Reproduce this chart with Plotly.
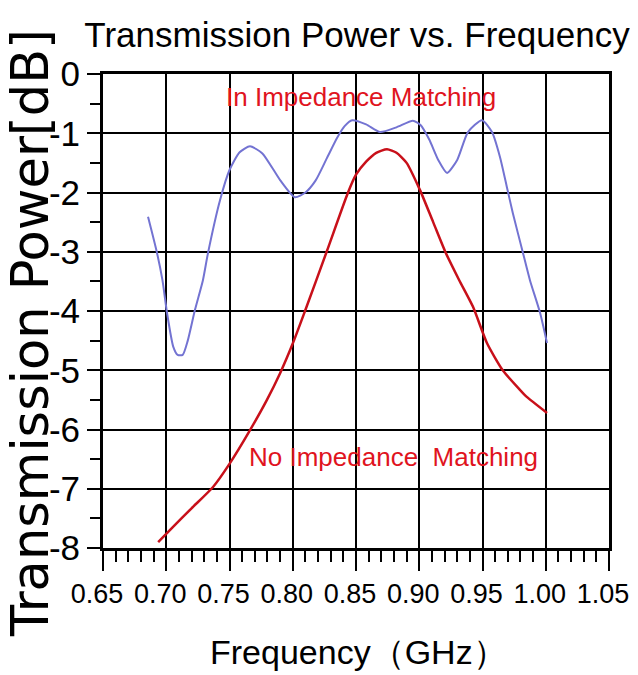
import plotly.graph_objects as go

# Blue: "In Impedance Matching"
blue_freq = [0.6856, 0.6927, 0.697, 0.7006, 0.7055, 0.709, 0.713, 0.717, 0.7227, 0.729, 0.733,
             0.7425, 0.750, 0.758, 0.7662, 0.776, 0.790, 0.8017, 0.810, 0.818, 0.827, 0.835,
             0.841, 0.847, 0.858, 0.869, 0.882, 0.895, 0.901, 0.908, 0.915, 0.922, 0.930, 0.9385,
             0.9496, 0.9575, 0.9638, 0.9693, 0.974, 0.982, 0.9875, 0.9955, 1.001]
blue_db = [-2.41, -3.02, -3.48, -4.03, -4.60, -4.74, -4.74, -4.50, -3.98, -3.48, -3.02,
           -2.13, -1.62, -1.32, -1.22, -1.34, -1.79, -2.08, -2.00, -1.80, -1.42, -1.08,
           -0.88, -0.78, -0.85, -0.98, -0.90, -0.79, -0.86, -1.11, -1.45, -1.67, -1.45, -0.98,
           -0.78, -0.98, -1.40, -1.91, -2.35, -3.02, -3.48, -4.03, -4.54]

# Red: "No Impedance Matching"
red_freq = [0.6936, 0.705, 0.720, 0.737, 0.750, 0.766, 0.7796, 0.790, 0.800, 0.8097, 0.8268,
            0.8437, 0.850, 0.858, 0.866, 0.8745, 0.882, 0.890, 0.9006, 0.911, 0.921, 0.9316,
            0.9425, 0.9535, 0.966, 0.9796, 0.985, 1.001]
red_db = [-7.90, -7.65, -7.33, -6.97, -6.58, -6.02, -5.50, -5.05, -4.55, -4.00, -3.00,
          -2.00, -1.70, -1.48, -1.33, -1.27, -1.33, -1.50, -1.96, -2.50, -3.02, -3.48,
          -3.93, -4.54, -5.00, -5.33, -5.45, -5.72]

x_ticks = [0.65, 0.70, 0.75, 0.80, 0.85, 0.90, 0.95, 1.00, 1.05]
x_tick_labels = ["0.65", "0.70", "0.75", "0.80", "0.85", "0.90", "0.95", "1.00", "1.05"]
y_ticks = [0, -1, -2, -3, -4, -5, -6, -7, -8]

FONT = "Liberation Sans, Arial, sans-serif"
# the page body adds an 8px offset; figure coordinates = screenshot coordinates - 8
W, H = 630, 667
L, T = 95, 66
PW, PH = 506, 474
R, B = W - L - PW, H - T - PH

fig = go.Figure()
fig.add_trace(go.Scatter(x=blue_freq, y=blue_db, mode="lines",
                         line=dict(color="#7373d2", width=2, shape="spline", smoothing=0.6),
                         showlegend=False, hoverinfo="skip"))
fig.add_trace(go.Scatter(x=red_freq, y=red_db, mode="lines",
                         line=dict(color="#c8101a", width=2.5, shape="spline", smoothing=0.6),
                         showlegend=False, hoverinfo="skip"))

fig.add_annotation(x=0.854, y=-0.39, xref="x", yref="y", text="In Impedance Matching", showarrow=False,
                   font=dict(family=FONT, size=26, color="#e0141e"))
fig.add_annotation(x=0.88, y=-6.46, xref="x", yref="y", text="No Impedance\u00a0 Matching", showarrow=False,
                   font=dict(family=FONT, size=26, color="#e0141e"))

# x-axis title
fig.add_annotation(x=(350 - L) / PW, y=-(644 - (T + PH)) / PH, xref="paper", yref="paper",
                   text="Frequency（GHz）", showarrow=False, xanchor="center", yanchor="middle",
                   font=dict(family=FONT, size=34, color="black"))
# y-axis title
fig.add_annotation(x=-(L - 22) / PW, y=(T + PH - 325) / PH, xref="paper", yref="paper",
                   text="Transmission Power[dB]", textangle=-90, showarrow=False,
                   xanchor="center", yanchor="middle",
                   font=dict(family="DejaVu Sans, Verdana, sans-serif", size=51, color="black"))

fig.update_layout(
    width=W, height=H,
    margin=dict(l=L, r=R, t=T, b=B, autoexpand=False),
    paper_bgcolor="white", plot_bgcolor="white",
    title=dict(text="Transmission Power vs. Frequency", x=349 / W, xanchor="center",
               y=1 - 27 / H, yanchor="middle", automargin=False,
               font=dict(family=FONT, size=35, color="black")),
    xaxis=dict(range=[0.65, 1.05], tickvals=x_ticks, ticktext=x_tick_labels, tickangle=0,
               ticklabeloverflow="allow", automargin=False, ticklabelshift=-6,
               showgrid=True, gridcolor="black", gridwidth=2,
               showline=True, linecolor="black", linewidth=3, mirror=True,
               ticks="outside", ticklen=20, tickwidth=1.5, tickcolor="black",
               minor=dict(dtick=0.01, tick0=0.65, ticks="outside", ticklen=11, tickwidth=1.5,
                          tickcolor="black", showgrid=False),
               tickfont=dict(family=FONT, size=27, color="black"), zeroline=False),
    yaxis=dict(range=[-8, 0], tickvals=y_ticks, ticktext=[str(v) for v in y_ticks],
               automargin=False,
               showgrid=True, gridcolor="black", gridwidth=2,
               showline=True, linecolor="black", linewidth=3, mirror=True,
               ticks="outside", ticklen=13, tickwidth=1.5, tickcolor="black",
               minor=dict(dtick=0.5, tick0=0, ticks="outside", ticklen=10, tickwidth=1.5,
                          tickcolor="black", showgrid=False),
               tickfont=dict(family=FONT, size=35, color="black"), zeroline=False),
)

fig.write_html("out.html")
